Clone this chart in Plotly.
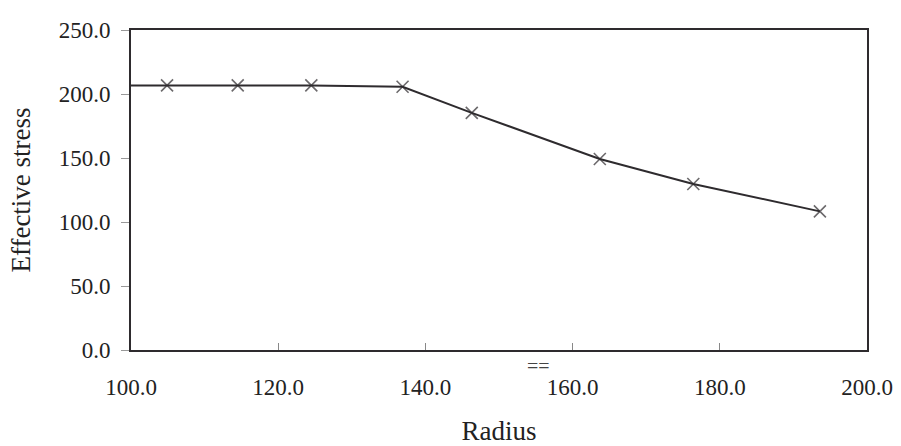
import plotly.graph_objects as go

# Effective stress versus radius
radius = [100.0, 104.9, 114.5, 124.5, 136.9, 146.3, 163.7, 176.4, 193.6]
stress = [206.7, 206.7, 206.7, 206.7, 205.7, 185.3, 149.2, 129.7, 108.3]
# the curve begins at the axis without a marker
marker_sizes = [0, 12, 12, 12, 12, 12, 12, 12, 12]

x_ticks = [100, 120, 140, 160, 180, 200]
x_tick_text = ["100.0", "120.0", "140.0", "160.0", "180.0", "200.0"]
y_ticks = [0, 50, 100, 150, 200, 250]
y_tick_text = ["0.0", "50.0", "100.0", "150.0", "200.0", "250.0"]

ink = "#2e2b2e"
serif = "Liberation Serif, Times New Roman, serif"

fig = go.Figure()
fig.add_trace(go.Scatter(
    x=radius, y=stress, mode="lines+markers",
    line=dict(color=ink, width=2),
    marker=dict(symbol="x-thin", size=marker_sizes, line=dict(color=ink, width=1.6)),
    showlegend=False, cliponaxis=False,
))

fig.update_layout(
    width=901, height=446,
    margin=dict(l=131, r=34, t=30, b=96),
    paper_bgcolor="white", plot_bgcolor="white",
    font=dict(family=serif, size=23, color="#222"),
    xaxis=dict(
        range=[100, 200], tickvals=x_ticks, ticktext=x_tick_text,
        showgrid=False, zeroline=False, automargin=False,
        showline=True, linecolor=ink, linewidth=2, mirror=True,
        ticks="inside", ticklen=7, tickcolor="#888", tickwidth=1,
        ticklabelstandoff=15,
        title=dict(text="Radius", font=dict(size=27, family=serif), standoff=24),
    ),
    yaxis=dict(
        range=[0, 250], tickvals=y_ticks, ticktext=y_tick_text,
        showgrid=False, zeroline=False, automargin=False,
        showline=True, linecolor=ink, linewidth=2, mirror=True,
        ticks="outside", ticklen=8, tickcolor="#999", tickwidth=1,
        ticklabelstandoff=6,
        title=dict(text="Effective stress", font=dict(size=27, family=serif), standoff=20),
    ),
)

# small double-dash mark below the axis near 160
fig.add_annotation(x=155.3, y=0, yshift=-16, text="==", showarrow=False,
                   font=dict(size=20, family=serif, color="#444"))

fig.write_html("out.html")
